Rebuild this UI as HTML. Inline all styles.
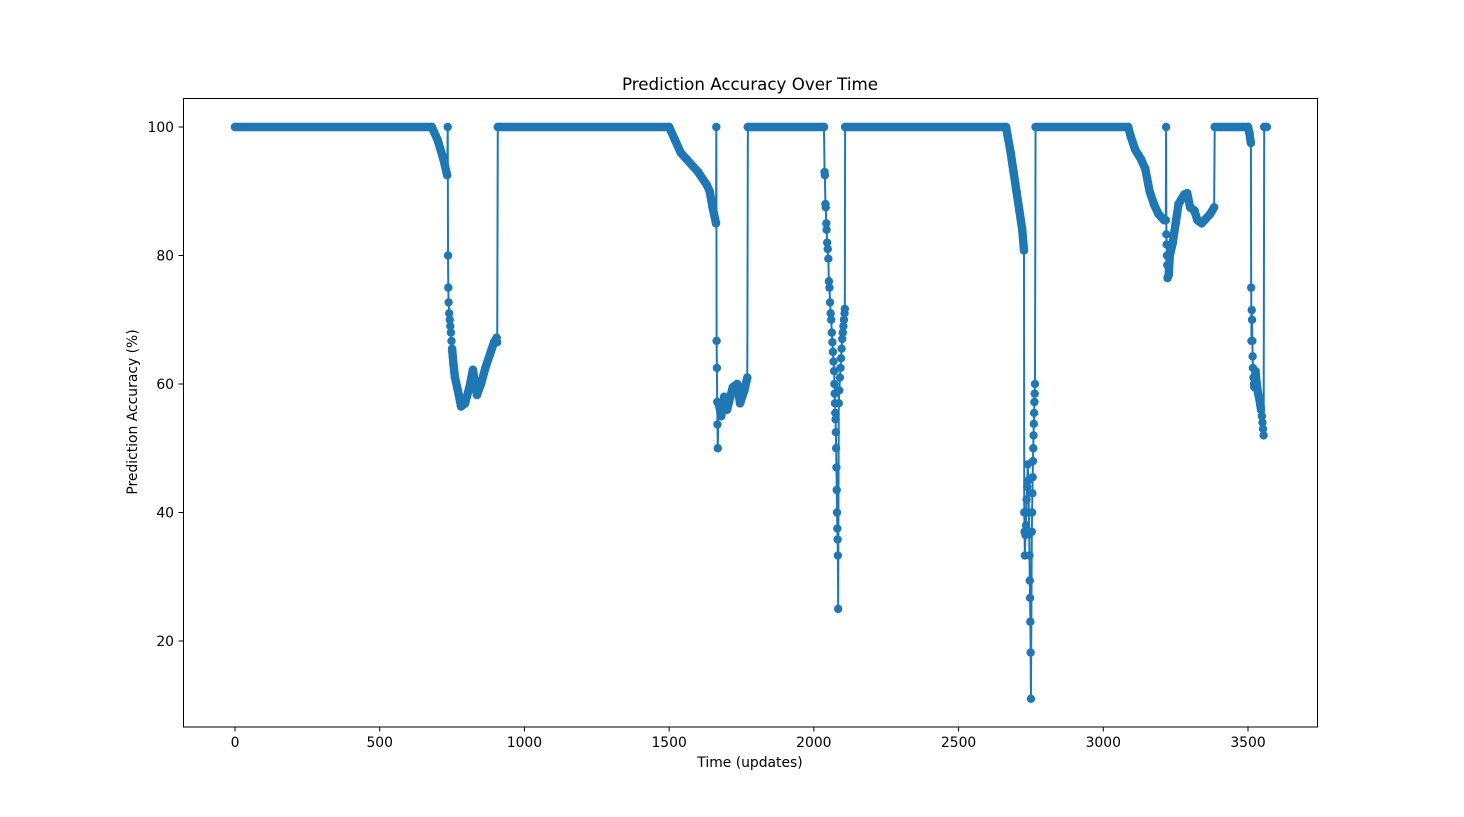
<!DOCTYPE html>
<html><head><meta charset="utf-8"><style>
body{margin:0;background:#fff;}
svg{display:block;font-family:"DejaVu Sans","Liberation Sans",sans-serif;}
</style></head><body>
<svg id="chart" width="1464" height="817">
<rect width="1464" height="817" fill="#fff"/>
<text x="750" y="90" text-anchor="middle" font-size="16.7">Prediction Accuracy Over Time</text>
<text x="750" y="767" text-anchor="middle" font-size="13.9">Time (updates)</text>
<text transform="translate(137,412) rotate(-90)" text-anchor="middle" font-size="13.9">Prediction Accuracy (%)</text>
<g id="ticks"></g>
<g id="series"></g>
<rect x="183.5" y="98.5" width="1134" height="628.5" fill="none" stroke="#000" stroke-width="1"/>
</svg>
<script>
const xTicks=[0,500,1000,1500,2000,2500,3000,3500];
const yTicks=[20,40,60,80,100];
const times=[
0,680,700,720,733,735,736,737,738,740,742,744,746,748,750,755,760,770,781,795,810,822,836,850,865,880,895,904,906,
908,1500,1520,1540,1560,1600,1630,1640,1650,1662,
1663,1664,1665,1666,1667,1668,1671,1680,1690,1700,1720,1735,1745,1760,1770,
1772,2035,
2037,2038,2040,2041,2043,2044,2046,2048,2050,2052,2054,2056,2058,2060,2062,2064,2066,2068,2070,2071,2072,2073,2074,2075,2076,2077,2078,2079,2080,2081,2082,2083,
2084,
2086,2088,2090,2092,2094,2096,2098,2100,2102,2104,2106,2107,
2108,2664,2670,2680,2690,2700,2710,2720,2726,
2727,2728,2729,2731,2733,2735,2737,2739,2741,2743,2744,2745,2746,2747,2748,2749,2750,
2753,2754,2755,2756,2757,2758,2759,2760,2761,2762,2763,2764,
2766,3086,3095,3110,3130,3145,3160,3175,3190,3210,3216,
3217,3218,3219,3220,3221,3222,
3226,3230,3240,3250,3260,3280,3290,3300,3315,3325,3340,3350,3370,3383,
3385,3500,3505,3510,
3511,3512,3513,3514,3515,3516,3517,3519,3521,3522,
3526,3530,3535,3540,3545,3548,3550,3552,3554,
3556,3565];
const accuracy=[
100,100,98,95,92.5,100,80,75,72.7,71,70,69,68,66.7,65.5,63,61,59,56.5,57,59.5,62.2,58.3,60,62.5,64.5,66.5,67.2,66.5,
100,100,98,96,95,93,91,90,87.5,85,
100,66.7,62.5,57.2,53.7,50,57,55,58,56,59.5,60,57,59,61,
100,100,
93,92.5,88,87.5,85,84,82,81,79.5,76,75,72.7,71,70,68,66.5,65,63.5,62,60,58.5,57,55.5,54.5,52.5,50,47,43.5,40,37.5,35.8,33.3,
25,
57,59,61,62.5,64,65.5,67,68,69,70,71,71.7,
100,100,98.5,96,93,90,87,84,80.8,
40,37,33.3,36.5,38,42,44,47.5,45,40,36.6,33.3,29.4,26.7,23,18.2,11,
37,40,43,45.5,48,50,52,53.8,55.5,57.2,58.5,60,
100,100,98.5,96.5,95,93.5,90,88,86.5,85.5,85.5,
100,83.3,81.7,80,78.5,76.5,
77,80,82,85,88,89.5,89.7,87.5,87,85.5,85,85.5,86.5,87.5,
100,100,99,97.5,
75,66.7,71.5,70,66.7,64.3,62.5,61,60,59.5,
62,60,58.5,57.5,56,55,54,53,52,
100,100];
const NS='http://www.w3.org/2000/svg';
const X=t=>235+t*(1248-235)/3500;
const Y=v=>127+(100-v)*(641-127)/80;
const tg=document.getElementById('ticks');
function mk(tag,attrs,parent){const e=document.createElementNS(NS,tag);for(const k in attrs)e.setAttribute(k,attrs[k]);parent.appendChild(e);return e;}
xTicks.forEach(t=>{
  const l=mk('line',{x1:X(t),x2:X(t),y1:727,y2:731.5,stroke:'#000','stroke-width':1},tg);
  
  
  const tx=mk('text',{x:X(t),y:747,'text-anchor':'middle','font-size':13.9},tg);
  tx.textContent=t;
  
  
});
yTicks.forEach(v=>{
  const l=mk('line',{x1:178.5,x2:183,y1:Y(v),y2:Y(v),stroke:'#000','stroke-width':1},tg);
  
  
  const tx=mk('text',{x:174,y:Y(v)+5,'text-anchor':'end','font-size':13.9},tg);
  tx.textContent=v;
  
  
});
const sg=document.getElementById('series');
const C='#1f77b4';
const n=Math.min(times.length,accuracy.length);
let d='';
for(let i=0;i<n;i++){d+=(i?'L':'M')+X(times[i]).toFixed(2)+' '+Y(accuracy[i]).toFixed(2);}
const line=mk('path',{d:d,fill:'none',stroke:C,'stroke-width':2,'stroke-linejoin':'round'},sg);


for(let i=0;i<n-1;i++){
  if(times[i+1]-times[i]>=4){
    const s=mk('line',{x1:X(times[i]),y1:Y(accuracy[i]),x2:X(times[i+1]),y2:Y(accuracy[i+1]),stroke:C,'stroke-width':8.4,'stroke-linecap':'round'},sg);
    
    
  }
}
for(let i=0;i<n;i++){
  const c=mk('circle',{cx:X(times[i]),cy:Y(accuracy[i]),r:4.2,fill:C},sg);
  
  
}
</script>
</body></html>
